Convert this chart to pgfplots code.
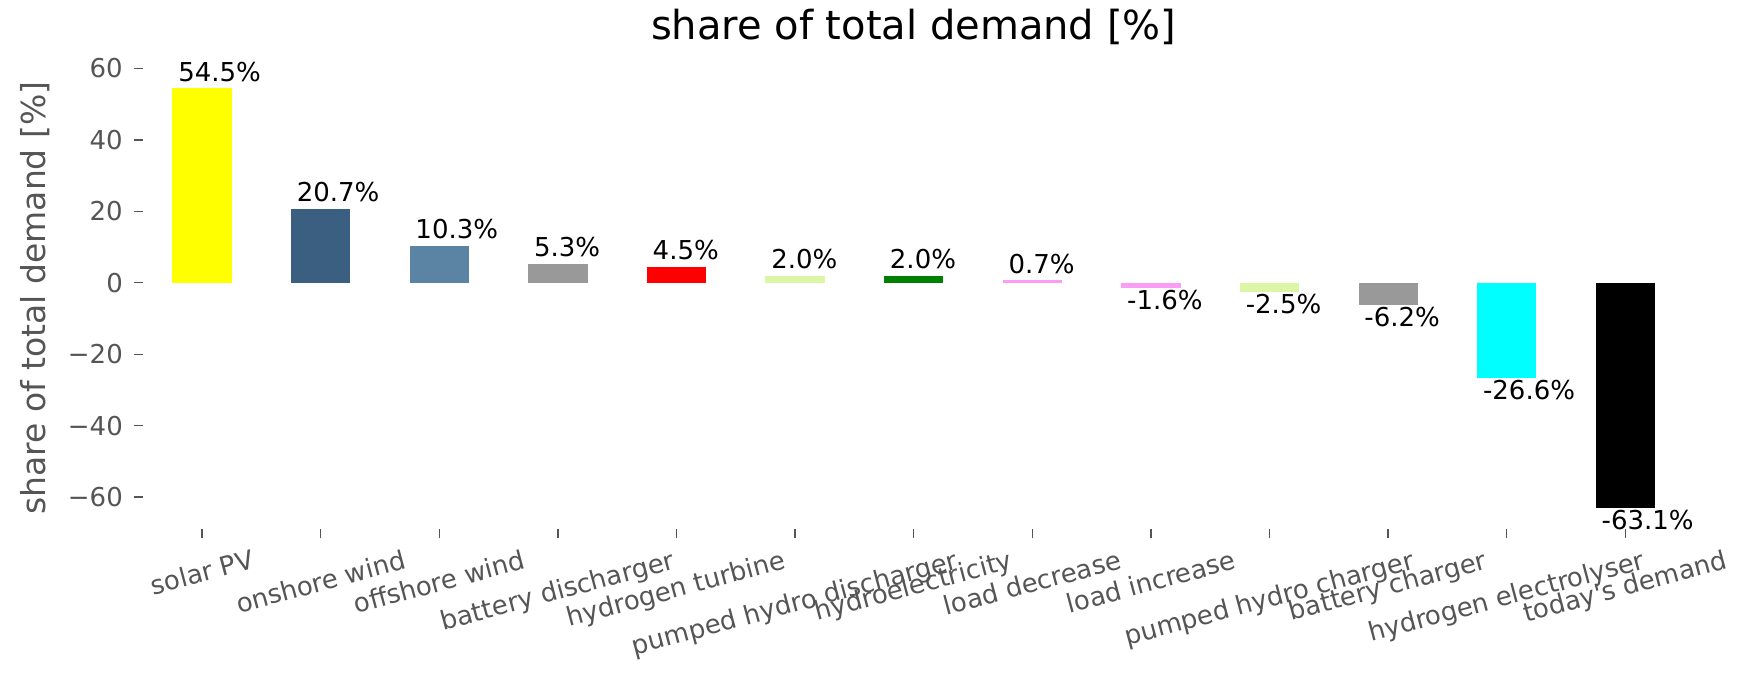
\documentclass[border=0pt]{standalone}
\usepackage{fontspec}
\setmainfont{DejaVu Sans}
\newfontfamily\dvplain{DejaVu Sans}
\usepackage{graphicx}
\usepackage{pgfplots}
\pgfplotsset{compat=1.18}
\newlength\pxu
\setlength\pxu{0.5pt}
\definecolor{tickgray}{HTML}{555555}
\definecolor{cSolar}{HTML}{FFFF00}
\definecolor{cOnshore}{HTML}{3B5F80}
\definecolor{cOffshore}{HTML}{5B83A4}
\definecolor{cBattery}{HTML}{999999}
\definecolor{cHturb}{HTML}{FF0000}
\definecolor{cPumped}{HTML}{DBF7A6}
\definecolor{cHydro}{HTML}{008000}
\definecolor{cLoad}{HTML}{F99DF6}
\definecolor{cElec}{HTML}{00FFFF}
\definecolor{cDemand}{HTML}{000000}
\newcommand\tl[1]{\rotatebox{15}{#1}}
\begin{document}
\begin{tikzpicture}
\path[use as bounding box] (-142.7\pxu,-159.7\pxu) rectangle (1621.3\pxu,529.3\pxu);
\begin{axis}[
  at={(0,0)}, anchor=south west,
  scale only axis,
  width=1542\pxu, height=462.3\pxu,
  xmin=-0.5, xmax=12.5, ymin=-69, ymax=60.4,
  clip=false,
  axis line style={draw=none},
  tick align=outside,
  xtick pos=bottom, ytick pos=left,
  major tick length=9\pxu,
  tick style={color=tickgray, line width=0.7pt},
  xtick={0,1,2,3,4,5,6,7,8,9,10,11,12},
  xticklabels={\tl{solar PV},\tl{onshore wind},\tl{offshore wind},\tl{battery discharger},\tl{hydrogen turbine},\tl{pumped hydro discharger},\tl{hydroelectricity},\tl{load decrease},\tl{load increase},\tl{pumped hydro charger},\tl{battery charger},\tl{hydrogen electrolyser},\tl{{\dvplain today's demand}}},
  ytick={-60,-40,-20,0,20,40,60},
  yticklabels={−60,−40,−20,0,20,40,60},
  ticklabel style={font=\fontsize{13}{15}\selectfont, text=tickgray, inner sep=0pt},
  xticklabel style={anchor=north, yshift=-10.5\pxu},
  yticklabel style={anchor=east, xshift=-10.5\pxu},
  ylabel={share of total demand [\%]},
  ylabel style={at={(axis description cs:-0.06336,0.5)}, anchor=base, inner sep=0pt, font=\fontsize{16.5}{19}\selectfont, text=tickgray},
  title={share of total demand [\%]},
  title style={at={(axis description cs:0.5,1.0331)}, anchor=base, inner sep=0pt, font=\fontsize{20}{24}\selectfont},
  bar width=0.5,
]
\addplot[ybar, bar shift=0pt, fill=cSolar, draw=none] coordinates {(0,54.5)};
\addplot[ybar, bar shift=0pt, fill=cOnshore, draw=none] coordinates {(1,20.7)};
\addplot[ybar, bar shift=0pt, fill=cOffshore, draw=none] coordinates {(2,10.3)};
\addplot[ybar, bar shift=0pt, fill=cBattery, draw=none] coordinates {(3,5.3)};
\addplot[ybar, bar shift=0pt, fill=cHturb, draw=none] coordinates {(4,4.5)};
\addplot[ybar, bar shift=0pt, fill=cPumped, draw=none] coordinates {(5,2.0)};
\addplot[ybar, bar shift=0pt, fill=cHydro, draw=none] coordinates {(6,2.0)};
\addplot[ybar, bar shift=0pt, fill=cLoad, draw=none] coordinates {(7,0.7)};
\addplot[ybar, bar shift=0pt, fill=cLoad, draw=none] coordinates {(8,-1.6)};
\addplot[ybar, bar shift=0pt, fill=cPumped, draw=none] coordinates {(9,-2.5)};
\addplot[ybar, bar shift=0pt, fill=cBattery, draw=none] coordinates {(10,-6.2)};
\addplot[ybar, bar shift=0pt, fill=cElec, draw=none] coordinates {(11,-26.6)};
\addplot[ybar, bar shift=0pt, fill=cDemand, draw=none] coordinates {(12,-63.1)};
% value labels, positive
\addplot[draw=none, mark=none, nodes near coords, point meta=explicit symbolic,
  nodes near coords style={anchor=base west, inner sep=0pt, xshift=-24.15\pxu, yshift=7\pxu, font=\fontsize{13}{15}\selectfont, text=black}]
  coordinates {(0,54.5)[54.5\%] (1,20.7)[20.7\%] (2,10.3)[10.3\%] (3,5.3)[5.3\%] (4,4.5)[4.5\%] (5,2.0)[2.0\%] (6,2.0)[2.0\%] (7,0.7)[0.7\%]};
% value labels, negative
\addplot[draw=none, mark=none, nodes near coords, point meta=explicit symbolic,
  nodes near coords style={anchor=base west, inner sep=0pt, xshift=-24.15\pxu, yshift=-21.5\pxu, font=\fontsize{13}{15}\selectfont, text=black}]
  coordinates {(8,-1.6)[-1.6\%] (9,-2.5)[-2.5\%] (10,-6.2)[-6.2\%] (11,-26.6)[-26.6\%] (12,-63.1)[-63.1\%]};
\end{axis}
\end{tikzpicture}
\end{document}
